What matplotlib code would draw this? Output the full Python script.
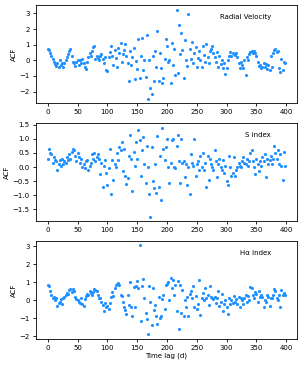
import matplotlib
matplotlib.use("Agg")
import matplotlib.pyplot as plt
import numpy as np

# time lags in days
lag = np.arange(0, 400, 2)

rv_acf = [
    0.75, 0.65, 0.45, 0.25, 0.1, -0.1, -0.25, -0.35, -0.2, -0.4,
    0.0, -0.3, -0.15, -0.4, -0.2, 0.05, 0.2, 0.4, 0.6, 0.75,
    0.3, -0.1, -0.2, -0.35, -0.1, 0.0, -0.3, 0.05, -0.15, 0.1,
    -0.2, -0.45, -0.55, -0.1, 0.2, 0.45, 0.25, 0.6, 0.85, 0.9,
    0.1, 0.3, 0.15, 0.05, 0.25, 0.4, 0.1, -0.2, 0.2, -0.6,
    -0.7, 0.2, 0.55, 0.9, 0.3, -0.3, 0.65, 0.15, -0.4, 0.8,
    0.5, 1.1, -0.1, 0.4, 0.65, 1.05, 0.3, -0.2, -1.35, 0.6,
    -0.3, 0.2, 0.8, -1.2, -0.05, -0.55, 1.35, -1.1, 0.3, 1.45,
    -0.6, 0.0, -1.05, 1.6, -2.45, 0.0, -1.8, -2.15, 0.3, -1.3,
    0.6, -0.4, 1.9, -1.3, 0.5, -0.5, -1.45, -1.1, 0.1, 1.35,
    0.9, -0.1, 0.0, -1.45, 1.1, -0.3, 0.75, -0.95, 3.25, -0.8,
    2.25, 0.4, 1.75, 0.65, -1.15, 1.3, 0.0, -0.35, 2.95, 0.7,
    0.1, 1.15, -0.2, 0.5, 0.85, -0.4, 0.15, 0.6, 0.0, -0.45,
    0.95, 0.35, -0.1, 1.05, 0.2, -0.2, 0.6, 0.75, 0.9, 0.45,
    0.2, -0.1, 0.55, -0.4, 0.3, -0.25, 0.0, -0.5, -0.15, -0.9,
    -0.5, 0.0, 0.25, 0.55, 0.3, 0.45, 0.4, 0.35, 0.5, 0.2,
    -0.2, -0.5, -0.1, -0.3, -0.5, 0.0, -0.95, 0.2, 0.0, 0.4,
    0.55, 0.6, 0.45, 0.6, 0.5, 0.3, -0.1, -0.35, -0.3, -0.5,
    -0.4, -0.15, -0.45, -0.25, -0.55, -0.3, -0.6, 0.25, -0.4, 0.5,
    0.65, 0.7, 0.55, 0.6, -0.5, -0.75, 0.1, -0.6, -0.1, -0.15,
]

s_acf = [
    0.3, 0.65, 0.5, 0.45, 0.15, 0.35, 0.25, 0.2, -0.1, 0.1,
    0.25, 0.05, 0.3, 0.1, 0.2, 0.15, 0.35, 0.25, 0.45, 0.3,
    0.55, 0.65, 0.6, 0.4, 0.2, 0.5, 0.35, 0.15, 0.3, 0.0,
    0.1, -0.05, 0.2, 0.25, -0.1, 0.05, 0.15, 0.45, 0.3, 0.5,
    0.2, 0.35, 0.45, 0.3, -0.25, 0.15, -0.7, 0.05, 0.25, -0.2,
    -0.65, -0.05, 0.65, -0.95, 0.25, -0.45, 0.1, 0.0, 0.5, 0.25,
    0.7, 0.6, 0.9, -0.15, 0.65, -0.3, -0.6, -0.4, 0.4, 1.15,
    0.3, -0.85, 0.55, 0.05, 0.9, 0.3, 1.3, 0.95, -0.3, 0.6,
    1.05, 0.1, -0.55, 0.75, 0.0, -0.95, -1.75, 0.7, -0.5, -0.75,
    0.1, -0.9, 1.1, -0.7, 0.4, -1.15, 1.4, 0.65, 0.25, 0.7,
    1.0, 0.0, -0.55, 0.15, 0.95, 1.0, 0.0, -0.05, 0.75, 1.15,
    0.2, -0.55, 1.0, 0.15, 0.2, -0.35, 0.1, -0.65, 0.0, -0.95,
    0.45, 0.15, 0.05, 1.0, -0.3, 0.1, 0.2, -0.1, 0.4, 0.0,
    0.5, -0.1, 0.15, -0.7, 0.4, -0.45, 0.3, 0.1, 0.0, -0.1,
    0.6, 0.2, -0.35, 0.1, 0.3, 0.0, -0.1, 0.25, -0.2, 0.05,
    -0.5, -0.65, 0.4, 0.0, -0.3, -0.2, 0.35, -0.3, -0.1, 0.0,
    0.15, 0.05, 0.0, 0.2, 0.35, 0.15, 0.1, 0.3, 0.05, 0.2,
    0.5, 0.6, 0.2, 0.0, -0.25, 0.3, 0.1, -0.15, 0.2, 0.05,
    0.35, 0.2, 0.45, -0.35, 0.3, 0.1, 0.25, 0.4, 0.1, 0.3,
    0.75, 0.5, 0.3, 0.6, 0.1, 0.45, 0.05, -0.45, 0.55, 0.05,
]

ha_acf = [
    0.85, 0.8, 0.5, 0.3, 0.1, 0.2, 0.0, 0.1, -0.3, -0.15,
    -0.1, 0.05, -0.2, 0.1, 0.2, 0.3, 0.4, 0.35, 0.55, 0.6,
    0.45, 0.65, 0.5, 0.2, 0.05, 0.0, -0.1, -0.15, 0.1, -0.2,
    -0.3, 0.05, 0.25, 0.35, 0.3, 0.5, 0.4, 0.3, 0.45, 0.6,
    0.55, 0.5, 0.3, 0.15, 0.1, -0.1, -0.25, -0.6, -0.15, -0.4,
    -0.3, -0.5, -0.15, 0.2, 0.45, 0.25, 0.7, 0.85, 0.9, 0.95,
    0.85, 0.3, 0.25, -0.1, -0.35, -0.55, -0.75, 0.3, -0.25, 1.0,
    -0.4, -0.9, 0.75, -0.4, 0.8, 1.05, 0.7, 3.05, -1.15, 0.8,
    1.2, 0.1, -0.7, -1.05, -1.9, 0.8, -0.1, -1.4, 0.7, -0.55,
    -0.25, -0.9, -1.3, 0.2, -1.0, -0.85, 0.05, 0.3, -0.5, 0.85,
    0.9, 1.0, 0.0, 1.25, 0.7, 1.15, 0.3, 0.85, -0.6, 1.05,
    -1.6, 0.85, -0.7, 0.55, -0.9, 0.0, -0.4, 0.2, -0.9, 0.35,
    0.5, 0.15, 0.8, -0.4, 0.25, -0.5, -0.2, 1.15, -0.8, 0.1,
    0.4, 0.0, 0.7, 0.1, 0.3, -0.25, 0.8, 0.2, 0.15, 0.05,
    0.2, -0.15, 0.1, 0.5, -0.3, -0.1, 0.35, -0.6, -0.2, 0.0,
    -0.4, -0.75, 0.1, -0.2, 0.0, -0.15, 0.25, -0.1, 0.05, -0.2,
    0.2, -0.35, 0.1, 0.0, -0.2, 0.1, 0.3, -0.1, 0.25, 0.0,
    0.75, 0.7, 0.3, 0.1, 0.45, 0.35, -0.1, 0.5, 0.2, 0.3,
    0.2, -0.35, 0.0, -0.1, 0.3, 0.2, -0.3, 0.1, 0.15, 0.3,
    0.6, 0.5, 0.1, 0.0, 0.3, -0.4, 0.55, 0.3, 0.4, 0.3,
]

names = ["Radial Velocity", "S index", "H\u03b1 index"]
series = [rv_acf, s_acf, ha_acf]

plt.rcParams["font.size"] = 5

fig, axes = plt.subplots(3, 1, figsize=(3.02, 3.66), dpi=100)
fig.subplots_adjust(left=0.119, right=0.983, top=0.986, bottom=0.074, hspace=0.204)

for ax, name, acf in zip(axes, names, series):
    ax.scatter(lag, acf, s=5, color="dodgerblue", linewidths=0)
    ax.text(0.90, 0.88, name, transform=ax.transAxes, ha="right", va="center")
    ax.set_ylabel("ACF", labelpad=2)
    ax.set_xticks(range(0, 401, 50))
    ax.tick_params(length=2.5, width=0.6, pad=2)
    for sp in ax.spines.values():
        sp.set_linewidth(0.6)

axes[1].set_yticks([-1.5, -1.0, -0.5, 0.0, 0.5, 1.0, 1.5])
axes[2].set_xlabel("Time lag (d)", labelpad=1)

plt.savefig("out.png")
